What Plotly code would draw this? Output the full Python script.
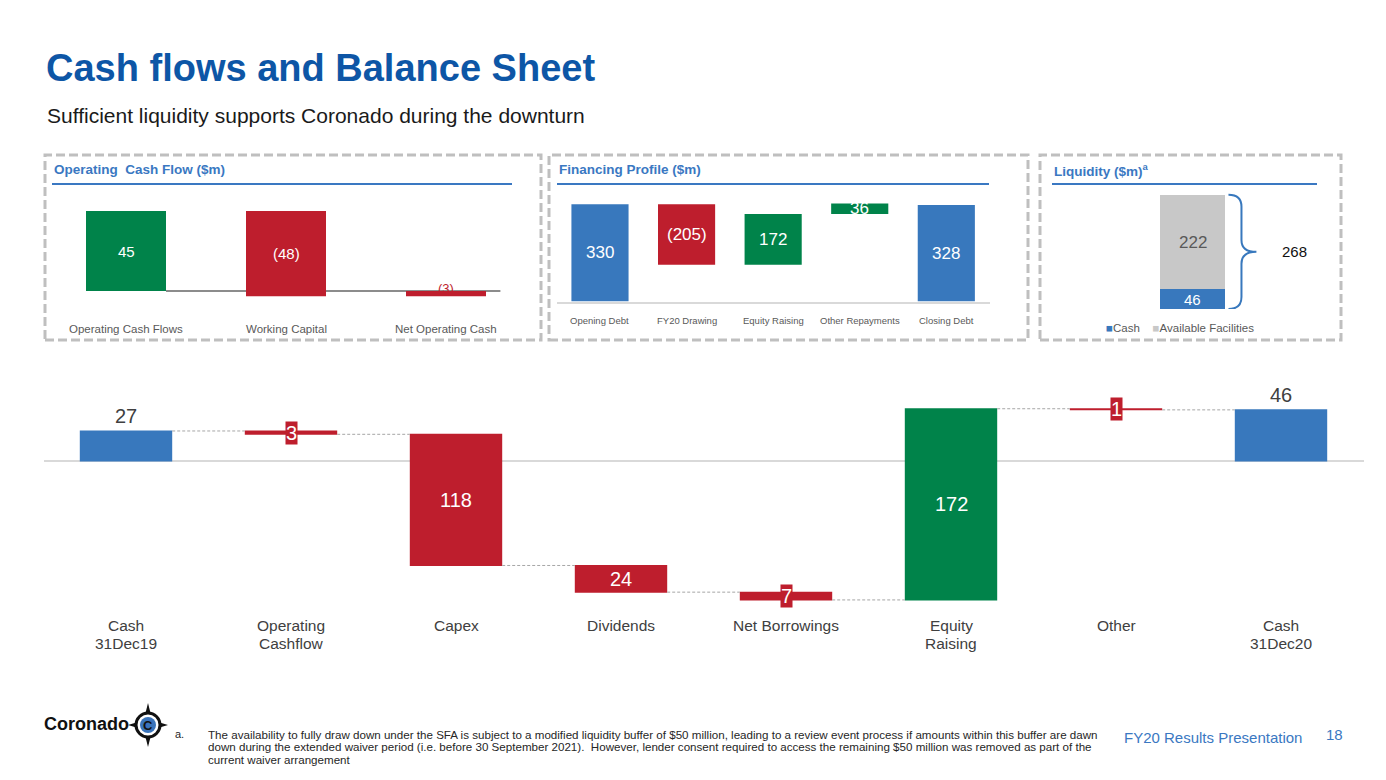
import plotly.graph_objects as go

# page offset (browser body margin) and figure size
OFF = 8
W, H = 1370, 764


def fx(p):
    return (p - OFF) / W


def fy(p):
    return 1 - (p - OFF) / H


FONT = "Liberation Sans, Arial, sans-serif"
NARROW = "Liberation Sans Narrow, Arial Narrow, Liberation Sans, Arial, sans-serif"
BLUE = "#3878bd"
RED = "#be1e2d"
GREEN = "#00834a"
GRAYBAR = "#c8c8c8"
TITLE_BLUE = "#0d56a6"
PANEL_BLUE = "#3a78c2"
DARK = "#404040"

# ---------------- data ----------------
main_cats = ["Cash 31Dec19", "Operating Cashflow", "Capex", "Dividends",
             "Net Borrowings", "Equity Raising", "Other", "Cash 31Dec20"]
main_label_lines = [["Cash", "31Dec19"], ["Operating", "Cashflow"], ["Capex"], ["Dividends"],
                    ["Net Borrowings"], ["Equity", "Raising"], ["Other"], ["Cash", "31Dec20"]]
main_measure = ["absolute", "relative", "relative", "relative",
                "relative", "relative", "relative", "total"]
main_values = [27, -3, -118, -24, -7, 172, -1, 46]

ocf_cats = ["Operating Cash Flows", "Working Capital", "Net Operating Cash"]
ocf_measure = ["relative", "relative", "total"]
ocf_values = [45, -48, -3]

fin_cats = ["Opening Debt", "FY20 Drawing", "Equity Raising", "Other Repayments", "Closing Debt"]
fin_measure = ["absolute", "relative", "relative", "relative", "absolute"]
fin_values = [330, -205, 172, 36, 328]

liq_names = ["Cash", "Available Facilities"]
liq_values = [46, 222]

footnote_lines = [
    "The availability to fully draw down under the SFA is subject to a modified liquidity buffer of $50 million, leading to a review event process if amounts within this buffer are dawn",
    "down during the extended waiver period (i.e. before 30 September 2021).  However, lender consent required to access the remaining $50 million was removed as part of the",
    "current waiver arrangement",
]


def spans(measure, values):
    run = 0
    out = []
    for m, v in zip(measure, values):
        if m == "absolute":
            s, e = 0, v
            run = v
        elif m == "total":
            s, e = 0, run
        else:
            s, e = run, run + v
            run = e
        out.append((s, e))
    return out


fig = go.Figure()

# ---------------- main waterfall ----------------
fig.add_trace(go.Waterfall(
    x=main_cats, y=main_values, measure=main_measure,
    xaxis="x", yaxis="y", width=0.56,
    increasing=dict(marker=dict(color=GREEN, line=dict(width=0))),
    decreasing=dict(marker=dict(color=RED, line=dict(width=0))),
    totals=dict(marker=dict(color=BLUE, line=dict(width=0))),
    connector=dict(line=dict(color="#a6a6a6", width=1, dash="3px,2px"), mode="between"),
    textinfo="none", hoverinfo="skip",
))

# ---------------- operating cash flow ----------------
fig.add_trace(go.Waterfall(
    x=ocf_cats, y=ocf_values, measure=ocf_measure,
    xaxis="x2", yaxis="y2", width=0.5,
    increasing=dict(marker=dict(color=GREEN, line=dict(width=0))),
    decreasing=dict(marker=dict(color=RED, line=dict(width=0))),
    totals=dict(marker=dict(color=RED, line=dict(width=0))),
    connector=dict(visible=False),
    textinfo="none", hoverinfo="skip",
))

# ---------------- financing profile ----------------
fig.add_trace(go.Waterfall(
    x=fin_cats, y=fin_values, measure=fin_measure,
    xaxis="x3", yaxis="y3", width=0.66,
    increasing=dict(marker=dict(color=GREEN, line=dict(width=0))),
    decreasing=dict(marker=dict(color=RED, line=dict(width=0))),
    totals=dict(marker=dict(color=BLUE, line=dict(width=0))),
    connector=dict(visible=False),
    textinfo="none", hoverinfo="skip",
))

# ---------------- liquidity ----------------
for name, val, col in zip(liq_names, liq_values, [BLUE, GRAYBAR]):
    fig.add_trace(go.Bar(x=[0], y=[val], width=1, name=name, marker=dict(color=col, line=dict(width=0)),
                         xaxis="x4", yaxis="y4", hoverinfo="skip"))

ann = []
shapes = []


def A(**kw):
    kw.setdefault("showarrow", False)
    kw.setdefault("yanchor", "middle")
    kw.setdefault("xanchor", "center")
    ann.append(kw)


# main labels
for cat, m, v, (s, e) in zip(main_cats, main_measure, main_values, spans(main_measure, main_values)):
    if m in ("absolute", "total"):
        A(x=cat, y=e, xref="x", yref="y", text=str(abs(v)), yanchor="bottom", yshift=2,
          font=dict(size=20, color=DARK, family=FONT))
    elif abs(v) >= 20:
        A(x=cat, y=(s + e) / 2, xref="x", yref="y", text=str(abs(v)),
          font=dict(size=20, color="white", family=FONT))
    else:
        A(x=cat, y=(s + e) / 2, xref="x", yref="y", text=str(abs(v)), bgcolor=RED, borderpad=0,
          font=dict(size=20, color="white", family=FONT))
for cat, lines in zip(main_cats, main_label_lines):
    for i, ln in enumerate(lines):
        A(x=cat, y=fy(625 + 18 * i), xref="x", yref="paper", text=ln,
          font=dict(size=15.5, color=DARK, family=FONT))


def fmt(v):
    return "(%d)" % abs(v) if v < 0 else str(v)


# OCF labels
for cat, v, (s, e) in zip(ocf_cats, ocf_values, spans(ocf_measure, ocf_values)):
    if abs(v) >= 10:
        A(x=cat, y=(s + e) / 2, xref="x2", yref="y2", text=fmt(v),
          font=dict(size=15, color="white", family=FONT))
    else:
        A(x=cat, y=0, xref="x2", yref="y2", text=fmt(v), yshift=3,
          font=dict(size=13, color=RED, family=FONT))
    A(x=cat, y=fy(329), xref="x2", yref="paper", text=cat,
      font=dict(size=11.5, color="#595959", family=FONT))

# financing labels
for cat, v, (s, e) in zip(fin_cats, fin_values, spans(fin_measure, fin_values)):
    A(x=cat, y=(s + e) / 2, xref="x3", yref="y3", text=fmt(v),
      font=dict(size=17, color="white", family=FONT))
    A(x=cat, y=fy(321), xref="x3", yref="paper", text=cat,
      font=dict(size=9.5, color="#595959", family=FONT))

# liquidity labels
A(x=0, y=liq_values[0] / 2, xref="x4", yref="y4", text=str(liq_values[0]),
  font=dict(size=15, color="white", family=FONT))
A(x=0, y=liq_values[0] + liq_values[1] / 2, xref="x4", yref="y4", text=str(liq_values[1]),
  font=dict(size=17, color="#595959", family=FONT))
total_liq = sum(liq_values)
A(x=1.56, y=total_liq / 2, xref="x4", yref="y4", text=str(total_liq),
  font=dict(size=15, color="#111111", family=FONT))
A(x=fx(1104), y=fy(328), xref="paper", yref="paper", xanchor="left",
  text="<span style='color:%s'>■</span>Cash    <span style='color:%s'>■</span>Available Facilities" % (BLUE, GRAYBAR),
  font=dict(size=11.5, color="#595959", family=FONT))

# brace
bx0, bx1, btip = 0.55, 0.75, 0.98
r = 28
ym = total_liq / 2
brace = ("M %f,%f Q %f,%f %f,%f L %f,%f Q %f,%f %f,%f Q %f,%f %f,%f L %f,%f Q %f,%f %f,%f" % (
    bx0, total_liq, bx1, total_liq, bx1, total_liq - r, bx1, ym + r, bx1, ym, btip, ym,
    bx1, ym, bx1, ym - r, bx1, r, bx1, 0, bx0, 0))
shapes.append(dict(type="path", path=brace, xref="x4", yref="y4", line=dict(color=BLUE, width=2)))

# OCF gray baseline
shapes.append(dict(type="line", xref="x2", yref="y2", x0=0.25, x1=2.34, y0=0, y1=0,
                   line=dict(color="#8c8c8c", width=2), layer="below"))

# dashed panels
for (x0, x1) in [(45, 541), (549, 1028), (1040, 1341)]:
    shapes.append(dict(type="rect", xref="paper", yref="paper", x0=fx(x0), x1=fx(x1), y0=fy(340), y1=fy(155),
                       line=dict(color="#bfbfbf", width=3, dash="9px,4px")))
# panel title underlines & titles
for (x0, x1, t) in [(52, 512, "Operating&nbsp; Cash Flow ($m)"), (557, 989, "Financing Profile ($m)"),
                    (1052, 1317, "Liquidity ($m)<sup>a</sup>")]:
    shapes.append(dict(type="line", xref="paper", yref="paper", x0=fx(x0), x1=fx(x1), y0=fy(184), y1=fy(184),
                       line=dict(color=PANEL_BLUE, width=2)))
    A(x=fx(x0), y=fy(170), xref="paper", yref="paper", xanchor="left", text="<b>%s</b>" % t,
      font=dict(size=13.5, color=PANEL_BLUE, family=FONT))

# slide title & subtitle
A(x=fx(44), y=fy(68), xref="paper", yref="paper", xanchor="left",
  text="<b>Cash flows and Balance Sheet</b>", font=dict(size=38, color=TITLE_BLUE, family=FONT))
A(x=fx(45), y=fy(116), xref="paper", yref="paper", xanchor="left",
  text="Sufficient liquidity supports Coronado during the downturn",
  font=dict(size=21, color="#1a1a1a", family=FONT))

# footer logo
A(x=fx(42), y=fy(724), xref="paper", yref="paper", xanchor="left",
  text="<b>Coronado</b>", font=dict(size=18, color="#111111", family=FONT))
cx, cy = 148, 725
shapes.append(dict(type="path", xref="paper", yref="paper", fillcolor="#111111", line=dict(width=0),
                   path="M %f,%f L %f,%f L %f,%f Z M %f,%f L %f,%f L %f,%f Z M %f,%f L %f,%f L %f,%f Z M %f,%f L %f,%f L %f,%f Z" % (
                       fx(cx - 3), fy(cy - 10), fx(cx), fy(cy - 22), fx(cx + 3), fy(cy - 10),
                       fx(cx - 3), fy(cy + 10), fx(cx), fy(cy + 22), fx(cx + 3), fy(cy + 10),
                       fx(cx - 10), fy(cy - 3), fx(cx - 20), fy(cy), fx(cx - 10), fy(cy + 3),
                       fx(cx + 10), fy(cy - 3), fx(cx + 20), fy(cy), fx(cx + 10), fy(cy + 3))))
shapes.append(dict(type="circle", xref="paper", yref="paper", x0=fx(cx - 12), x1=fx(cx + 12),
                   y0=fy(cy + 12), y1=fy(cy - 12), line=dict(color="#111111", width=3), fillcolor="white"))
shapes.append(dict(type="circle", xref="paper", yref="paper", x0=fx(cx - 8), x1=fx(cx + 8),
                   y0=fy(cy + 8), y1=fy(cy - 8), line=dict(width=0), fillcolor="#3a74bb"))
A(x=fx(cx), y=fy(cy), xref="paper", yref="paper", text="<b>C</b>",
  font=dict(size=13, color="#111111", family=FONT))

# footnote
A(x=fx(173), y=fy(734), xref="paper", yref="paper", xanchor="left",
  text="a.", font=dict(size=11, color="#262626", family=FONT))
for i, line in enumerate(footnote_lines):
    A(x=fx(206), y=fy(734 + 12.5 * i), xref="paper", yref="paper", xanchor="left",
      text=line, font=dict(size=11.6, color="#262626", family=NARROW))
A(x=fx(1122), y=fy(737), xref="paper", yref="paper", xanchor="left",
  text="FY20 Results Presentation", font=dict(size=15, color=PANEL_BLUE, family=FONT))
A(x=fx(1324), y=fy(734), xref="paper", yref="paper", xanchor="left",
  text="18", font=dict(size=15, color=PANEL_BLUE, family=FONT))

noax = dict(showgrid=False, zeroline=False, showticklabels=False, ticks="", showline=False)

fig.update_layout(
    width=W, height=H, margin=dict(l=0, r=0, t=0, b=0),
    paper_bgcolor="white", plot_bgcolor="white",
    showlegend=False, barmode="stack",
    font=dict(family=FONT),
    xaxis=dict(domain=[fx(43.5), fx(1363.5)], type="category", anchor="y", **noax),
    yaxis=dict(domain=[fy(616.6), fy(394.3)], range=[-140, 60], anchor="x",
               showgrid=False, showticklabels=False, ticks="", showline=False,
               zeroline=True, zerolinecolor="#d9d9d9", zerolinewidth=2),
    xaxis2=dict(domain=[fx(46), fx(526)], type="category", range=[-0.5, 2.5], anchor="y2", **noax),
    yaxis2=dict(domain=[fy(326.6), fy(184.3)], range=[-20, 60], anchor="x2", **noax),
    xaxis3=dict(domain=[fx(556.7), fx(989.6)], type="category", range=[-0.5, 4.5], anchor="y3",
                showgrid=False, zeroline=False, showticklabels=False, ticks="",
                showline=True, linecolor="#d9d9d9", linewidth=2),
    yaxis3=dict(domain=[fy(301.5), fy(183.7)], range=[0, 400], anchor="x3", **noax),
    xaxis4=dict(domain=[fx(1052), fx(1317)], range=[-2.165, 1.912], anchor="y4", **noax),
    yaxis4=dict(domain=[fy(309), fy(181)], range=[0, 300], anchor="x4", **noax),
    annotations=ann, shapes=shapes,
)

fig.write_html("out.html")
